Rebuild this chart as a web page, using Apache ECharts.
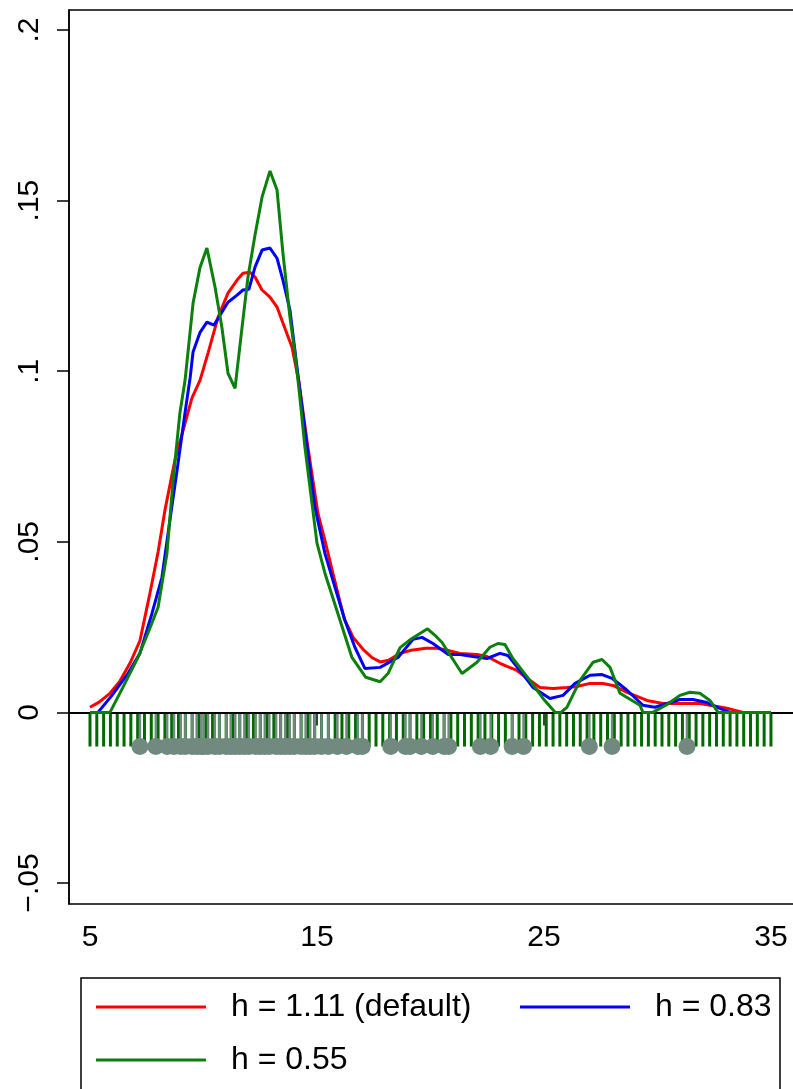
<!DOCTYPE html>
<html>
<head>
<meta charset="utf-8">
<script src="https://cdn.jsdelivr.net/npm/echarts@6.0.0/dist/echarts.min.js"></script>
<style>
  html, body { margin: 0; padding: 0; background: #fff; }
  #chart { width: 793px; height: 1089px; }
</style>
</head>
<body>
<div id="chart"></div>
<script>
// --- data ---
const X_TICKS = [5, 15, 25, 35];
const Y_TICKS = [-0.05, 0, 0.05, 0.1, 0.15, 0.2];
const Y_LABELS = ['\u2212.05', '0', '.05', '.1', '.15', '.2'];

const LEGEND_RED = 'h = 1.11 (default)';
const LEGEND_BLUE = 'h = 0.83';
const LEGEND_GREEN = 'h = 0.55';

// density estimates [x, density]
const densityRed = [
  [5.0, 0.0015], [5.4, 0.0030], [5.88, 0.0056], [6.3, 0.0090], [6.76, 0.0144], [7.2, 0.0210],
  [7.64, 0.0349], [8.0, 0.0470], [8.3, 0.0592], [8.74, 0.0739], [9.19, 0.0848], [9.49, 0.0921],
  [9.85, 0.0974], [10.2, 0.1053], [10.64, 0.1158], [11.08, 0.1229], [11.48, 0.1267], [11.74, 0.1287],
  [12.05, 0.1290], [12.27, 0.1276], [12.58, 0.1238], [12.93, 0.1217], [13.24, 0.1188], [13.5, 0.1141],
  [13.9, 0.1070], [14.2, 0.0970], [14.6, 0.0777], [15.04, 0.0584], [15.35, 0.0504], [15.7, 0.0408],
  [16.2, 0.0275], [16.59, 0.0220], [17.03, 0.0185], [17.42, 0.0161], [17.78, 0.0148], [18.15, 0.0153],
  [18.66, 0.0173], [19.15, 0.0182], [19.8, 0.0188], [20.29, 0.0188], [20.73, 0.0182], [21.3, 0.0173],
  [22.05, 0.0170], [22.49, 0.0164], [23.06, 0.0144], [23.37, 0.0135], [23.81, 0.0123], [24.38, 0.0094],
  [24.82, 0.0073], [25.4, 0.0070], [26.01, 0.0073], [26.45, 0.0076], [27.03, 0.0085], [27.6, 0.0085],
  [28.04, 0.0079], [28.66, 0.0059], [29.54, 0.0035], [30.24, 0.0026], [30.99, 0.0026], [31.87, 0.0026],
  [32.31, 0.0021], [33.06, 0.0012], [33.77, 0], [35.0, 0]
];

const densityBlue = [
  [5.0, 0], [5.35, 0], [5.97, 0.0050], [6.67, 0.0114], [7.2, 0.0173], [7.73, 0.0290], [8.17, 0.0396],
  [8.52, 0.0563], [8.88, 0.0730], [9.19, 0.0880], [9.41, 0.0980], [9.54, 0.1056], [9.85, 0.1114],
  [10.15, 0.1144], [10.46, 0.1135], [10.81, 0.1173], [11.08, 0.1202], [11.48, 0.1223], [11.74, 0.1238],
  [12.0, 0.1240], [12.27, 0.1305], [12.58, 0.1355], [12.93, 0.1361], [13.24, 0.1331], [13.5, 0.1267],
  [13.81, 0.1179], [14.12, 0.1012], [14.47, 0.0827], [14.91, 0.0601], [15.35, 0.0466], [15.79, 0.0367],
  [16.23, 0.0270], [16.67, 0.0191], [17.11, 0.0129], [17.78, 0.0132], [18.57, 0.0161], [19.23, 0.0214],
  [19.63, 0.0220], [20.11, 0.0202], [20.77, 0.0170], [21.3, 0.0170], [21.87, 0.0164], [22.49, 0.0158],
  [23.06, 0.0173], [23.41, 0.0167], [23.94, 0.0123], [24.52, 0.0073], [25.26, 0.0041], [25.84, 0.0050],
  [26.37, 0.0085], [27.03, 0.0109], [27.56, 0.0111], [28.0, 0.0100], [28.66, 0.0065], [29.36, 0.0021],
  [29.89, 0.0015], [30.42, 0.0026], [30.99, 0.0038], [31.56, 0.0038], [32.18, 0.0029], [32.75, 0.0012],
  [33.19, 0], [35.0, 0]
];

const densityGreen = [
  [5.0, 0], [5.88, 0], [6.5, 0.0080], [7.11, 0.0161], [7.6, 0.0240], [8.0, 0.0308], [8.39, 0.0466],
  [8.66, 0.0680], [8.96, 0.0877], [9.19, 0.0974], [9.54, 0.1199], [9.85, 0.1305], [10.15, 0.1361],
  [10.51, 0.1246], [10.81, 0.1129], [11.08, 0.0994], [11.39, 0.0950], [11.7, 0.1129], [11.96, 0.1276],
  [12.27, 0.1399], [12.58, 0.1510], [12.93, 0.1587], [13.24, 0.1531], [13.5, 0.1346], [13.81, 0.1158],
  [14.03, 0.1053], [14.25, 0.0921], [14.47, 0.0777], [15.0, 0.0496], [15.35, 0.0408], [15.92, 0.0290],
  [16.54, 0.0161], [17.15, 0.0103], [17.78, 0.0090], [18.13, 0.0114], [18.66, 0.0190], [19.15, 0.0215],
  [19.87, 0.0245], [20.2, 0.0226], [20.51, 0.0205], [21.39, 0.0114], [22.05, 0.0147], [22.62, 0.0191],
  [22.97, 0.0202], [23.28, 0.0199], [23.63, 0.0158], [24.38, 0.0094], [24.96, 0.0041], [25.5, 0],
  [25.75, 0], [26.01, 0.0015], [26.59, 0.0094], [27.16, 0.0147], [27.56, 0.0155], [27.91, 0.0132],
  [28.35, 0.0056], [29.23, 0.0021], [29.36, 0], [29.8, 0], [30.42, 0.0023], [30.99, 0.0050],
  [31.43, 0.0059], [31.87, 0.0056], [32.31, 0.0035], [32.67, 0], [35.0, 0]
];

// evaluation grid shown as spikes
const gridPoints = [
  5, 5.3, 5.6, 5.9, 6.2, 6.5, 6.8, 7.1, 7.4, 7.7, 8, 8.3, 8.6, 8.9, 9.2, 9.5, 9.8, 10.1, 10.4, 10.7,
  11, 11.3, 11.6, 11.9, 12.2, 12.5, 12.8, 13.1, 13.4, 13.7, 14, 14.3, 14.6, 14.9, 15.2, 15.5, 15.8,
  16.1, 16.4, 16.7, 17, 17.3, 17.6, 17.9, 18.2, 18.5, 18.8, 19.1, 19.4, 19.7, 20, 20.3, 20.6, 20.9,
  21.2, 21.5, 21.8, 22.1, 22.4, 22.7, 23, 23.3, 23.6, 23.9, 24.2, 24.5, 24.8, 25.1, 25.4, 25.7, 26,
  26.3, 26.6, 26.9, 27.2, 27.5, 27.8, 28.1, 28.4, 28.7, 29, 29.3, 29.6, 29.9, 30.2, 30.5, 30.8, 31.1,
  31.4, 31.7, 32, 32.3, 32.6, 32.9, 33.2, 33.5, 33.8, 34.1, 34.4, 34.7, 35
];

// observations shown as rug
const observations = [
  7.2, 7.9, 8.4, 8.7, 9.0, 9.2, 9.5, 9.7, 9.9, 10.0, 10.2, 10.5, 10.7, 11.0, 11.2, 11.4, 11.6, 11.8,
  12.0, 12.3, 12.5, 12.7, 12.9, 13.2, 13.4, 13.6, 13.8, 14.0, 14.3, 14.5, 14.7, 14.9, 15.2, 15.5,
  15.9, 16.3, 16.8, 17.0, 18.25, 18.9, 19.1, 19.6, 20.1, 20.6, 20.8, 22.2, 22.65, 23.6, 24.1,
  27.0, 28.0, 31.3
];
const RUG_DEPTH = -0.01;

// --- chart ---
const FONT = 'Liberation Sans, Arial, sans-serif';
const RED = '#ff0000', BLUE = '#0000ff', GREEN = '#0c800c';
const SPIKE_GREEN = '#006a00', RUG_GRAY = '#71897e';
const CURVE_WIDTH = 3;

function spikeRenderer(color, width) {
  return function (params, api) {
    const top = api.coord([api.value(0), 0]);
    const bot = api.coord([api.value(0), api.value(1)]);
    return {
      type: 'line',
      shape: { x1: top[0], y1: top[1], x2: bot[0], y2: bot[1] },
      style: { stroke: color, lineWidth: width }
    };
  };
}

const chart = echarts.init(document.getElementById('chart'), null, { renderer: 'canvas' });

const legendBase = {
  orient: 'horizontal',
  padding: 0,
  icon: 'rect',
  itemWidth: 110,
  itemHeight: 3,
  selectedMode: false,
  textStyle: { fontSize: 32, fontFamily: FONT, color: '#000', padding: [0, 0, 0, 20] }
};

chart.setOption({
  animation: false,
  backgroundColor: '#fff',
  grid: {
    left: 69, top: 10, width: 731, height: 894,
    show: true, borderColor: '#000', borderWidth: 1.5,
    containLabel: false, outerBoundsMode: 'none'
  },
  xAxis: {
    type: 'value',
    min: 4.075, max: 36.28,
    axisLine: { show: true, lineStyle: { color: '#000', width: 1.5 } },
    axisTick: { show: true, length: 13, customValues: X_TICKS, lineStyle: { color: '#000', width: 1.5 } },
    axisLabel: { customValues: X_TICKS, fontSize: 30, fontFamily: FONT, color: '#000', margin: 19 },
    splitLine: { show: false }
  },
  yAxis: {
    type: 'value',
    min: -0.05615, max: 0.20586,
    axisLine: { show: true, lineStyle: { color: '#000', width: 1.5 } },
    axisTick: { show: true, length: 12, customValues: Y_TICKS, lineStyle: { color: '#000', width: 1.5 } },
    axisLabel: {
      customValues: Y_TICKS, fontSize: 30, fontFamily: FONT, color: '#000', rotate: 90, margin: 24,
      formatter: function (v) {
        const i = Y_TICKS.findIndex(t => Math.abs(t - v) < 1e-9);
        return i >= 0 ? Y_LABELS[i] : '';
      }
    },
    splitLine: { show: false }
  },
  legend: [
    Object.assign({}, legendBase, { left: 96, top: 991, data: [LEGEND_RED] }),
    Object.assign({}, legendBase, { left: 520, top: 991, data: [LEGEND_BLUE] }),
    Object.assign({}, legendBase, { left: 96, top: 1044, data: [LEGEND_GREEN] })
  ],
  graphic: [{
    type: 'rect',
    shape: { x: 81, y: 978, width: 699, height: 200 },
    style: { fill: 'none', stroke: '#000', lineWidth: 1.5 },
    silent: true
  }],
  series: [
    {
      type: 'custom', name: 'grid', z: 1, silent: true,
      renderItem: spikeRenderer(SPIKE_GREEN, 3),
      data: gridPoints.map(x => [x, RUG_DEPTH])
    },
    {
      type: 'custom', name: 'obs', z: 2, silent: true,
      renderItem: spikeRenderer(RUG_GRAY, 2.5),
      data: observations.map(x => [x, RUG_DEPTH])
    },
    {
      type: 'scatter', name: 'obsdots', z: 3, silent: true,
      symbol: 'circle', symbolSize: 17,
      itemStyle: { color: RUG_GRAY, opacity: 1 },
      data: observations.map(x => [x, RUG_DEPTH]),
      markLine: {
        silent: true, symbol: 'none', label: { show: false },
        lineStyle: { color: '#000', width: 2, type: 'solid' },
        data: [{ yAxis: 0 }]
      }
    },
    {
      type: 'line', name: LEGEND_RED, z: 5, showSymbol: false, color: RED,
      lineStyle: { color: RED, width: CURVE_WIDTH }, itemStyle: { color: RED },
      data: densityRed
    },
    {
      type: 'line', name: LEGEND_BLUE, z: 6, showSymbol: false, color: BLUE,
      lineStyle: { color: BLUE, width: CURVE_WIDTH }, itemStyle: { color: BLUE },
      data: densityBlue
    },
    {
      type: 'line', name: LEGEND_GREEN, z: 7, showSymbol: false, color: GREEN,
      lineStyle: { color: GREEN, width: CURVE_WIDTH }, itemStyle: { color: GREEN },
      data: densityGreen
    }
  ]
});
</script>
</body>
</html>
